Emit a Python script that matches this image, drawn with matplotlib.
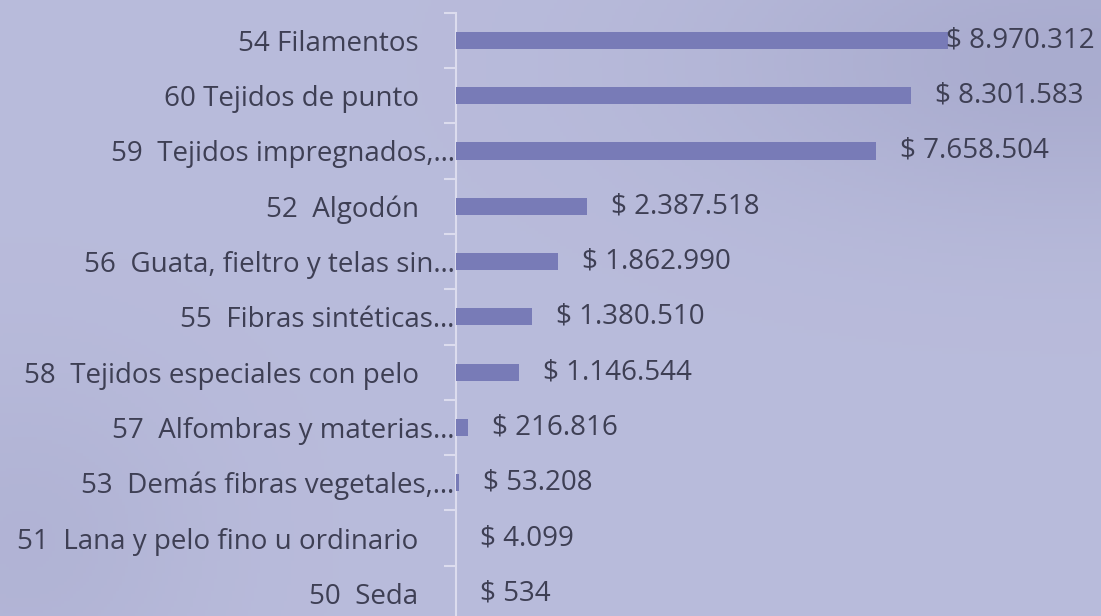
import numpy as np
import matplotlib
matplotlib.use("Agg")
import matplotlib.pyplot as plt
from matplotlib.ticker import FixedLocator

categories = [
    "54 Filamentos",
    "60 Tejidos de punto",
    "59  Tejidos impregnados,…",
    "52  Algodón",
    "56  Guata, fieltro y telas sin…",
    "55  Fibras sintéticas…",
    "58  Tejidos especiales con pelo",
    "57  Alfombras y materias…",
    "53  Demás fibras vegetales,…",
    "51  Lana y pelo fino u ordinario",
    "50  Seda",
]
values = [8970312, 8301583, 7658504, 2387518, 1862990, 1380510,
          1146544, 216816, 53208, 4099, 534]
value_labels = ["$ 8.970.312", "$ 8.301.583", "$ 7.658.504", "$ 2.387.518",
                "$ 1.862.990", "$ 1.380.510", "$ 1.146.544", "$ 216.816",
                "$ 53.208", "$ 4.099", "$ 534"]

W, H = 1101, 616
DPI = 100
plt.rcParams['font.family'] = ['Open Sans', 'DejaVu Sans']
text_color = "#3e3f54"
bar_color = "#787bb7"
axis_color = "#dcdcee"
FS = 20

fig = plt.figure(figsize=(W / DPI, H / DPI), dpi=DPI)

# background gradient
bg = fig.add_axes([0, 0, 1, 1])
bg.set_axis_off()
yy, xx = np.mgrid[0:1:200j, 0:1:360j]
base = np.array([0.725, 0.735, 0.86])
shade = np.exp(-(((xx - 0.97) * 3.2) ** 2 + ((yy - 0.1) * 4.0) ** 2)) * 0.06
shade += np.exp(-(((xx - 0.02) * 6) ** 2 + ((yy - 0.88) * 3.5) ** 2)) * 0.03
img = base[None, None, :] - shade[..., None] * np.array([1.0, 1.0, 0.8])
bg.imshow(np.clip(img, 0, 1), extent=[0, 1, 0, 1], aspect="auto", origin="upper")
bg.set_xlim(0, 1)
bg.set_ylim(0, 1)

left = 456 / W
top = 12.7 / H
bottom = -5.0 / H
ax = fig.add_axes([left, bottom, 1 - left, 1 - top - bottom])
ax.patch.set_alpha(0)

n = len(categories)
ypos = np.arange(n)
scale_px_per_unit = 54.8 / 1e6
xmax = (W - 456) / scale_px_per_unit
ax.barh(ypos, values, height=0.31, color=bar_color, zorder=3)
ax.set_xlim(0, xmax)
ax.set_ylim(n - 0.5, -0.5)

ax.set_yticks(ypos)
ax.set_yticklabels(categories, fontsize=FS, color=text_color)
ax.yaxis.set_minor_locator(FixedLocator(np.arange(-0.5, n, 1)))
ax.tick_params(axis="y", which="major", length=0)
ax.tick_params(axis="y", which="minor", length=9, width=1.5, color=axis_color)
for t, lab in zip(ax.yaxis.get_major_ticks(), categories):
    t.set_pad(1 if lab.endswith("…") else 27)
ax.set_xticks([])
for s in ["top", "right", "bottom"]:
    ax.spines[s].set_visible(False)
ax.spines["left"].set_color(axis_color)
ax.spines["left"].set_linewidth(1.5)

fig.canvas.draw()
renderer = fig.canvas.get_renderer()
for y, v, lab in zip(ypos, values, value_labels):
    t = ax.annotate(lab, (v, y), xytext=(24 * 72 / DPI, 0), textcoords="offset points",
                    va="center", ha="left", fontsize=FS, color=text_color, zorder=4)
    bb = t.get_window_extent(renderer)
    if bb.x1 > W - 6:
        shift = bb.x1 - (W - 6)
        t.set_position((24 * 72 / DPI - shift * 72 / DPI, 0))

fig.savefig("out.png", dpi=DPI)
